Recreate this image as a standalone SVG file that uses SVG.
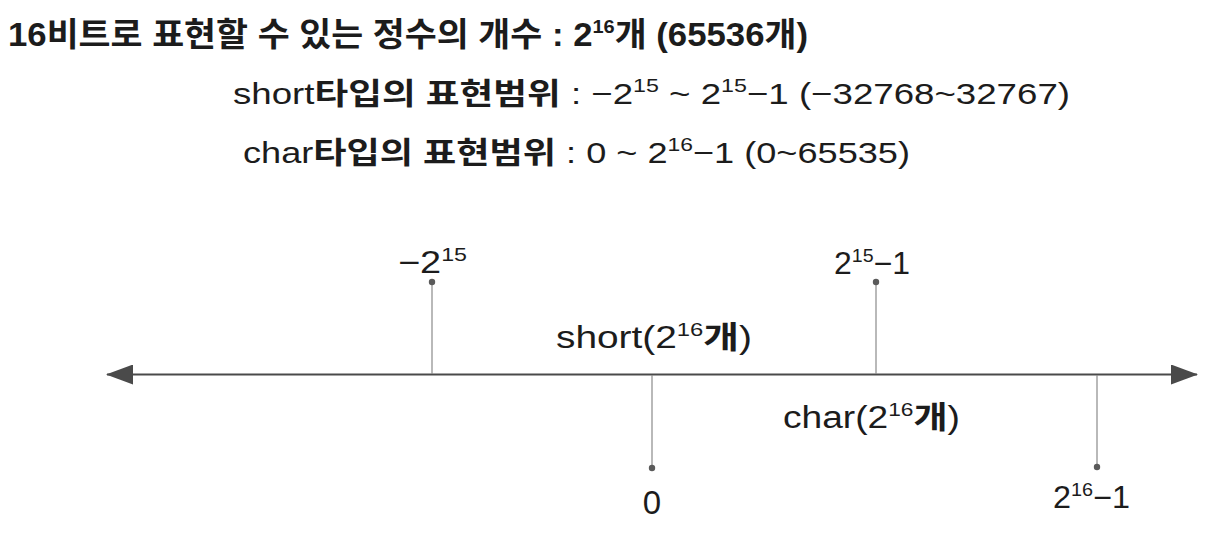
<svg xmlns="http://www.w3.org/2000/svg" width="1221" height="556" viewBox="0 0 1221 556">
<style>
text { font-family: "Liberation Sans", "Noto Sans CJK KR", sans-serif; fill: #1c1c1c; }
.t1 { font-size: 33px; font-weight: bold; }
.t2 { font-size: 30px; }
.ko { font-weight: bold; }
.lbl { font-size: 31px; }
.sup { font-size: 19px; }
.tick { stroke: #8a8a8a; stroke-width: 1.2; fill: none; }
.dot { fill: #5a5a5a; }
.axis { stroke: #4a4a4a; stroke-width: 2.2; }
</style>
<defs>
<marker id="ah" viewBox="0 0 27 20" refX="26" refY="10" markerWidth="27" markerHeight="20" markerUnits="userSpaceOnUse" orient="auto-start-reverse">
<path d="M0,0 L27,10 L0,20 Z" fill="#4a4a4a"/>
</marker>
</defs>
<rect width="1221" height="556" fill="#ffffff"/>
<g id="title">
<text class="t1" x="8" y="46" textLength="800" lengthAdjust="spacingAndGlyphs">16비트로 표현할 수 있는 정수의 개수 : 2<tspan class="sup" dy="-13">16</tspan><tspan dy="13">개 (65536개)</tspan></text>
</g>
<g id="short-range">
<text class="t2" x="233" y="104" textLength="837" lengthAdjust="spacingAndGlyphs">short<tspan class="ko">타입의 표현범위</tspan> : −2<tspan class="sup" dy="-12">15</tspan><tspan dy="12"> ~ 2</tspan><tspan class="sup" dy="-12">15</tspan><tspan dy="12">−1 (−32768~32767)</tspan></text>
</g>
<g id="char-range">
<text class="t2" x="243" y="163" textLength="667" lengthAdjust="spacingAndGlyphs">char<tspan class="ko">타입의 표현범위</tspan> : 0 ~ 2<tspan class="sup" dy="-12">16</tspan><tspan dy="12">−1 (0~65535)</tspan></text>
</g>
<g id="connectors">
<line class="axis" x1="107" y1="374.5" x2="1197" y2="374.5" marker-start="url(#ah)" marker-end="url(#ah)"/>
<line class="tick" x1="432" y1="282" x2="432" y2="374"/>
<line class="tick" x1="876" y1="282" x2="876" y2="374"/>
<line class="tick" x1="652" y1="375" x2="652" y2="468"/>
<line class="tick" x1="1097" y1="375" x2="1097" y2="467"/>
</g>
<g id="min-short">
<circle class="dot" cx="432" cy="282" r="3.2"/>
<text class="lbl" x="398" y="273" textLength="69" lengthAdjust="spacingAndGlyphs">−2<tspan class="sup" dy="-12">15</tspan></text>
</g>
<g id="max-short">
<circle class="dot" cx="876" cy="282" r="3.2"/>
<text class="lbl" x="834" y="274" textLength="76" lengthAdjust="spacingAndGlyphs">2<tspan class="sup" dy="-12">15</tspan><tspan dy="12">−1</tspan></text>
</g>
<g id="zero">
<circle class="dot" cx="652" cy="468" r="3.2"/>
<text class="lbl" x="652" y="514" text-anchor="middle" style="font-size:33px">0</text>
</g>
<g id="max-char">
<circle class="dot" cx="1097" cy="467" r="3.2"/>
<text class="lbl" x="1053" y="508" textLength="77" lengthAdjust="spacingAndGlyphs">2<tspan class="sup" dy="-12">16</tspan><tspan dy="12">−1</tspan></text>
</g>
<g id="short-label">
<text class="lbl" x="556" y="348" textLength="196" lengthAdjust="spacingAndGlyphs">short(2<tspan class="sup" dy="-12">16</tspan><tspan dy="12" class="ko">개</tspan>)</text>
</g>
<g id="char-label">
<text class="lbl" x="783" y="428" textLength="177" lengthAdjust="spacingAndGlyphs">char(2<tspan class="sup" dy="-12">16</tspan><tspan dy="12" class="ko">개</tspan>)</text>
</g>
</svg>
